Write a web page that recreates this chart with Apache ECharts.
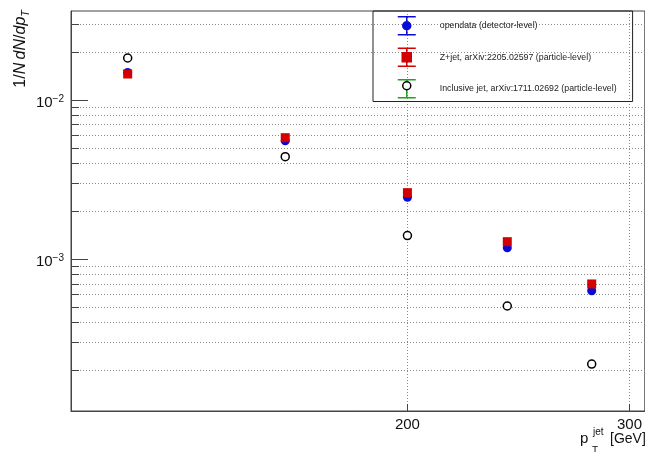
<!DOCTYPE html>
<html>
<head>
<meta charset="utf-8">
<script src="https://cdn.jsdelivr.net/npm/echarts@6/dist/echarts.min.js"></script>
<style>
  html, body { margin: 0; padding: 0; background: #fff; }
  #chart { width: 645px; height: 452px; }
</style>
</head>
<body>
<div id="chart"></div>
<script>
// Jet pT bin centres (GeV)
const ptCenters = [120, 160, 200, 240, 280];

// Normalised spectra 1/N dN/dpT
const opendataVals  = [0.0149, 0.00555, 0.00245, 0.00118, 0.000635];
const zjetVals      = [0.01456, 0.0058, 0.00262, 0.00129, 0.0007];
const inclusiveVals = [0.01835, 0.00441, 0.00141, 0.000509, 0.00022];

const seriesNames = [
  'opendata (detector-level)',
  'Z+jet, arXiv:2205.02597 (particle-level)',
  'Inclusive jet, arXiv:1711.02692 (particle-level)'
];

// Axis ticks
const xTickValues = [200, 300];
const yMajorValues = [0.001, 0.01];
const yMinorValues = [0.0002, 0.0003, 0.0004, 0.0005, 0.0006, 0.0007, 0.0008, 0.0009,
                      0.002, 0.003, 0.004, 0.005, 0.006, 0.007, 0.008, 0.009,
                      0.02, 0.03];
const yGridValues = yMinorValues.concat(yMajorValues);

const X_MIN = 108.2, X_MAX = 308.5;
const Y_MIN = 1.116e-4, Y_MAX = 0.0362;

const BLUE = '#0a0ad8', RED = '#d20000', GREEN = '#22a022';
const FONT = '"Liberation Sans", Arial, Helvetica, sans-serif';
const AXIS_COL = '#444';
const GRID_LINE = { show: true, lineStyle: { color: '#8a8a8a', width: 1, type: [1, 2] } };

function pairs(xs, ys) { return xs.map((x, i) => [x, ys[i]]); }

// Legend icons: error bar with marker, padded box so text sits to the right
const BOX = 'M0 0L0 0M37 20L37 20';
const BARS = 'M9 1L9 19M0 1L18 1M0 19L18 19';
const DOT = 'M13 10A4 4 0 1 1 5 10A4 4 0 1 1 13 10Z';
const SQUARE = 'M4.5 5.5L13.5 5.5L13.5 14.5L4.5 14.5Z';

const legendBase = {
  orient: 'vertical',
  left: 373, top: 11,
  padding: [4, 16, 2, 24],
  itemWidth: 37, itemHeight: 20, itemGap: 10,
  textStyle: { fontFamily: FONT, fontSize: 8.8, color: '#222' }
};

function supLabel(v) {
  const e = Math.round(Math.log10(v));
  return '{b|10}{s|' + (e < 0 ? '\u2212' : '') + Math.abs(e) + '}';
}

const chart = echarts.init(document.getElementById('chart'), null, { renderer: 'canvas' });

chart.setOption({
  animation: false,
  backgroundColor: '#fff',
  grid: {
    left: 71, top: 11, right: -3, bottom: 41,
    show: true, borderColor: AXIS_COL, borderWidth: 1, backgroundColor: 'transparent'
  },
  xAxis: {
    type: 'log', min: X_MIN, max: X_MAX,
    axisLine: { show: true, lineStyle: { color: AXIS_COL } },
    axisTick: { show: true, inside: true, length: 7, customValues: xTickValues, lineStyle: { color: AXIS_COL } },
    axisLabel: { show: true, customValues: xTickValues, margin: 6, fontFamily: FONT, fontSize: 15, color: '#111' },
    splitLine: Object.assign({ customValues: xTickValues }, GRID_LINE),
    minorTick: { show: false }
  },
  yAxis: [
    {
      type: 'log', min: Y_MIN, max: Y_MAX, position: 'left',
      axisLine: { show: true, lineStyle: { color: AXIS_COL } },
      axisTick: { show: true, inside: true, length: 8, customValues: yMinorValues, lineStyle: { color: AXIS_COL } },
      axisLabel: { show: false },
      splitLine: Object.assign({ customValues: yGridValues }, GRID_LINE)
    },
    {
      type: 'log', min: Y_MIN, max: Y_MAX, position: 'left', offset: 0,
      axisLine: { show: false },
      axisTick: { show: true, inside: true, length: 17, customValues: yMajorValues, lineStyle: { color: AXIS_COL } },
      axisLabel: {
        show: true, customValues: yMajorValues, margin: 7,
        formatter: supLabel,
        padding: [6, 0, 0, 0],
        rich: {
          b: { fontFamily: FONT, fontSize: 15, lineHeight: 18, color: '#111' },
          s: { fontFamily: FONT, fontSize: 10, lineHeight: 8, verticalAlign: 'top', color: '#111' }
        }
      },
      splitLine: { show: false }
    }
  ],
  legend: [
    Object.assign({}, legendBase, {
      borderColor: '#222', borderWidth: 1, backgroundColor: 'transparent',
      data: [
        { name: seriesNames[0], icon: 'path://' + BOX + BARS + DOT,
          itemStyle: { color: BLUE, borderColor: BLUE, borderWidth: 1.5 } },
        { name: seriesNames[1], icon: 'path://' + BOX + BARS + SQUARE,
          itemStyle: { color: RED, borderColor: RED, borderWidth: 1.5 } },
        { name: seriesNames[2], icon: 'path://' + BOX + BARS,
          itemStyle: { color: GREEN, borderColor: GREEN, borderWidth: 1.5 } }
      ]
    }),
    Object.assign({}, legendBase, {
      borderWidth: 0, backgroundColor: 'transparent',
      formatter: () => '',
      data: [
        { name: seriesNames[0], icon: 'path://' + BOX,
          itemStyle: { color: 'transparent', borderColor: 'transparent', borderWidth: 0 } },
        { name: seriesNames[1], icon: 'path://' + BOX,
          itemStyle: { color: 'transparent', borderColor: 'transparent', borderWidth: 0 } },
        { name: seriesNames[2], icon: 'path://' + BOX + DOT,
          itemStyle: { color: '#fff', borderColor: '#000', borderWidth: 1.5 } }
      ]
    })
  ],
  series: [
    {
      name: seriesNames[0], type: 'scatter', yAxisIndex: 0, z: 2,
      data: pairs(ptCenters, opendataVals),
      symbol: 'circle', symbolSize: 9,
      itemStyle: { color: BLUE, opacity: 1 }
    },
    {
      name: seriesNames[1], type: 'scatter', yAxisIndex: 0, z: 3,
      data: pairs(ptCenters, zjetVals),
      symbol: 'rect', symbolSize: 9,
      itemStyle: { color: RED, opacity: 1 }
    },
    {
      name: seriesNames[2], type: 'scatter', yAxisIndex: 0, z: 4,
      data: pairs(ptCenters, inclusiveVals),
      symbol: 'circle', symbolSize: 8,
      itemStyle: { color: '#fff', borderColor: '#000', borderWidth: 1.5, opacity: 1 }
    }
  ],
  graphic: [
    {
      type: 'text', x: 21, y: 10, rotation: Math.PI / 2,
      style: {
        text: '{a|1/}{i|N} {i|dN}{a|/}{i|dp}{t|T}',
        align: 'right', verticalAlign: 'middle',
        rich: {
          a: { fontFamily: FONT, fontSize: 16, lineHeight: 20, fill: '#111' },
          i: { fontFamily: FONT, fontSize: 16, fontStyle: 'italic', lineHeight: 20, fill: '#111' },
          t: { fontFamily: FONT, fontSize: 11, fontStyle: 'italic', lineHeight: 11, verticalAlign: 'bottom', fill: '#111' }
        }
      }
    },
    { type: 'text', x: 580, y: 439, style: { text: 'p', fontFamily: FONT, fontSize: 15, fill: '#111', align: 'left', verticalAlign: 'middle' } },
    { type: 'text', x: 593, y: 432, style: { text: 'jet', fontFamily: FONT, fontSize: 10, fill: '#111', align: 'left', verticalAlign: 'middle' } },
    { type: 'text', x: 592, y: 451, style: { text: 'T', fontFamily: FONT, fontSize: 10, fill: '#111', align: 'left', verticalAlign: 'middle' } },
    { type: 'text', x: 610, y: 439, style: { text: '[GeV]', fontFamily: FONT, fontSize: 14, fill: '#111', align: 'left', verticalAlign: 'middle' } }
  ]
});
</script>
</body>
</html>
